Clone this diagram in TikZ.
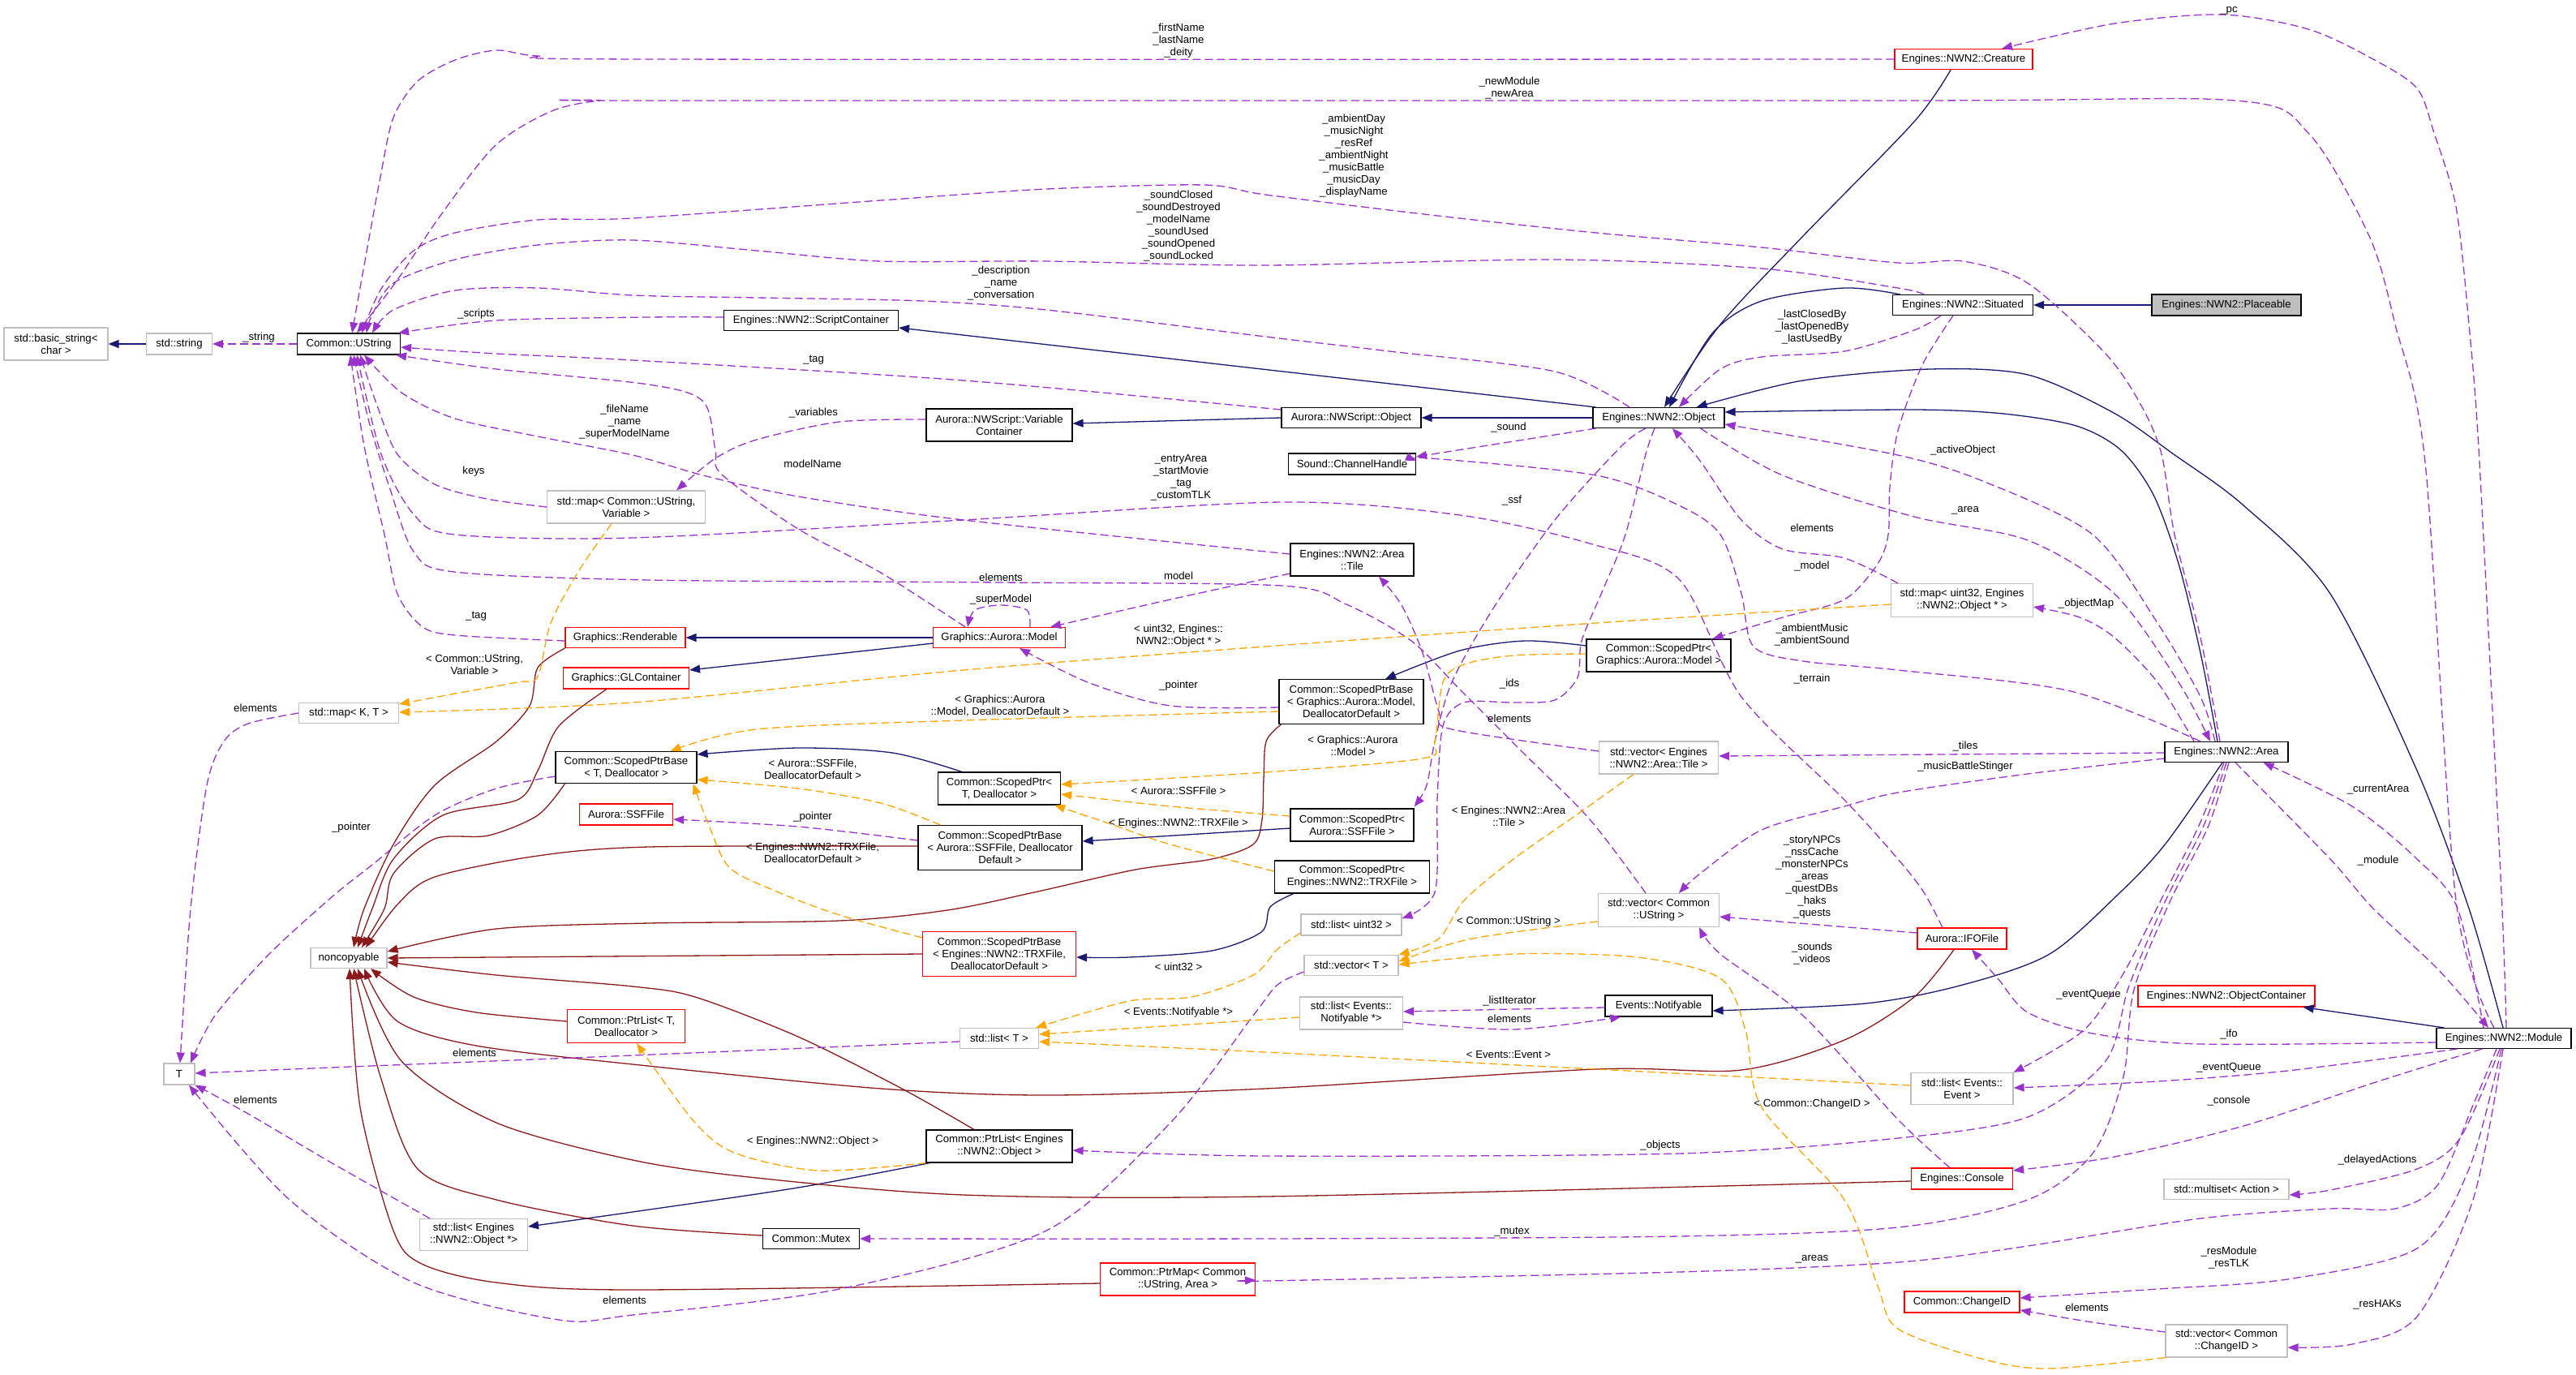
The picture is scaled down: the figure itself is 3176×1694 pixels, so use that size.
\documentclass[tikz,border=0pt]{standalone}
\usepackage{fontspec}
\setmainfont{Liberation Sans}
\usetikzlibrary{arrows.meta}
\definecolor{inhc}{HTML}{191970}
\definecolor{usec}{HTML}{9A32CD}
\definecolor{tmplc}{HTML}{FFA500}
\definecolor{privc}{HTML}{8B1A1A}
\definecolor{grayb}{HTML}{BFBFBF}
\newcommand{\dfont}{\fontsize{13.2}{15}\selectfont}
\tikzset{
 nbox/.style={draw, line width=1.15pt, inner sep=0pt, align=center, font=\dfont, fill=white},
 nbk/.style={nbox, draw=black},
 nrd/.style={nbox, draw=red},
 ngr/.style={nbox, draw=grayb},
 sz/.style 2 args={minimum width=#1pt, minimum height=#2pt},
 lbl/.style={inner sep=0pt, align=center, font=\dfont},
 arrtip/.style={-{Triangle[length=13pt,width=10pt]}},
 einh/.style={draw=inhc, line width=1.3pt, arrtip},
 epriv/.style={draw=privc, line width=1.3pt, arrtip},
 euse/.style={draw=usec, line width=1.3pt, dash pattern=on 10pt off 5pt, arrtip},
 etmpl/.style={draw=tmplc, line width=1.3pt, dash pattern=on 10pt off 5pt, arrtip},
}
\begin{document}
\begin{tikzpicture}[x=1pt,y=-1pt]
\useasboundingbox (0,0) rectangle (3176,1694);
\fill[white] (0,0) rectangle (3176,1694);

% ---------------- nodes ----------------
\node[ngr, sz={128}{40}] (n_basic) at (69,424) {std::basic\_string<\\char >};
\node[ngr, sz={81}{26}] (n_stdstr) at (221,424) {std::string};
\node[nbk, sz={127}{26}] (n_ustr) at (430,424) {Common::UString};
\node[nbk, sz={215}{25}] (n_script) at (1000,395) {Engines::NWN2::ScriptContainer};
\node[nbk, sz={180}{40}] (n_varc) at (1232,524) {Aurora::NWScript::Variable\\Container};
\node[nrd, sz={170}{25}] (n_creat) at (2421,73) {Engines::NWN2::Creature};
\node[nbk, sz={172}{25}] (n_nwsobj) at (1666,515) {Aurora::NWScript::Object};
\node[nbk, sz={162}{25}] (n_obj) at (2045,515) {Engines::NWN2::Object};
\node[nbk, sz={157}{26}] (n_chan) at (1667,572) {Sound::ChannelHandle};
\node[nbk, sz={173}{25}] (n_sit) at (2420,376) {Engines::NWN2::Situated};
\node[nbk, sz={184}{26}, fill=grayb] (n_place) at (2745,376) {Engines::NWN2::Placeable};
\node[ngr, sz={175}{41}] (n_mapu) at (2419,740) {std::map< uint32, Engines\\::NWN2::Object * >};
\node[nbk, sz={152}{25}] (n_area) at (2745,927) {Engines::NWN2::Area};
\node[ngr, sz={195}{40}] (n_mapsv) at (772,625) {std::map< Common::UString,\\Variable >};
\node[nrd, sz={148}{25}] (n_rend) at (771,786) {Graphics::Renderable};
\node[nrd, sz={155}{26}] (n_glc) at (772,836) {Graphics::GLContainer};
\node[ngr, sz={123}{25}] (n_mapkt) at (430,879) {std::map< K, T >};
\node[nbk, sz={174}{39}] (n_spbT) at (772,946) {Common::ScopedPtrBase\\< T, Deallocator >};
\node[nrd, sz={115}{26}] (n_ssf) at (772,1004) {Aurora::SSFFile};
\node[nrd, sz={163}{25}] (n_model) at (1232,786) {Graphics::Aurora::Model};
\node[nbk, sz={151}{40}] (n_spT) at (1232,972) {Common::ScopedPtr<\\T, Deallocator >};
\node[nbk, sz={202}{55}] (n_spbSSF) at (1233,1045) {Common::ScopedPtrBase\\< Aurora::SSFFile, Deallocator\\Default >};
\node[nbk, sz={178}{55}] (n_spbModel) at (1666,865) {Common::ScopedPtrBase\\< Graphics::Aurora::Model,\\DeallocatorDefault >};
\node[nbk, sz={152}{40}] (n_tile) at (1667,690) {Engines::NWN2::Area\\::Tile};
\node[nbk, sz={178}{40}] (n_spModel) at (2045,808) {Common::ScopedPtr<\\Graphics::Aurora::Model >};
\node[ngr, sz={147}{40}] (n_vtile) at (2045,934) {std::vector< Engines\\::NWN2::Area::Tile >};
\node[nbk, sz={152}{40}] (n_spSSF) at (1667,1017) {Common::ScopedPtr<\\Aurora::SSFFile >};
\node[nbk, sz={191}{40}] (n_spTRX) at (1667,1081) {Common::ScopedPtr<\\Engines::NWN2::TRXFile >};
\node[ngr, sz={149}{41}] (n_vustr) at (2045,1122) {std::vector< Common\\::UString >};
\node[ngr, sz={94}{25}] (n_noncopy) at (430,1181) {noncopyable};
\node[ngr, sz={38}{26}] (n_T) at (221,1324) {T};
\node[ngr, sz={133}{39}] (n_listobj) at (584,1522) {std::list< Engines\\::NWN2::Object *>};
\node[nrd, sz={145}{41}] (n_ptrlT) at (772,1265) {Common::PtrList< T,\\Deallocator >};
\node[nrd, sz={189}{55}] (n_spbTRX) at (1232,1176) {Common::ScopedPtrBase\\< Engines::NWN2::TRXFile,\\DeallocatorDefault >};
\node[ngr, sz={97}{25}] (n_listT) at (1232,1280) {std::list< T >};
\node[nbk, sz={180}{40}] (n_ptrlobj) at (1232,1413) {Common::PtrList< Engines\\::NWN2::Object >};
\node[nbk, sz={119}{25}] (n_mutex) at (1000,1527) {Common::Mutex};
\node[nrd, sz={191}{40}] (n_ptrmap) at (1452,1577) {Common::PtrMap< Common\\::UString, Area >};
\node[ngr, sz={124}{26}] (n_listu32) at (1666,1140) {std::list< uint32 >};
\node[ngr, sz={116}{25}] (n_vecT) at (1666,1190) {std::vector< T >};
\node[ngr, sz={127}{40}] (n_listnot) at (1666,1249) {std::list< Events::\\Notifyable *>};
\node[nbk, sz={132}{26}] (n_notif) at (2045,1240) {Events::Notifyable};
\node[nrd, sz={110}{26}] (n_ifo) at (2419,1157) {Aurora::IFOFile};
\node[nrd, sz={218}{26}] (n_objc) at (2745,1228) {Engines::NWN2::ObjectContainer};
\node[nbk, sz={166}{25}] (n_module) at (3087,1280) {Engines::NWN2::Module};
\node[ngr, sz={126}{39}] (n_listev) at (2419,1342) {std::list< Events::\\Event >};
\node[nrd, sz={125}{26}] (n_console) at (2419,1453) {Engines::Console};
\node[ngr, sz={154}{25}] (n_mset) at (2745,1466) {std::multiset< Action >};
\node[nrd, sz={142}{26}] (n_chid) at (2419,1605) {Common::ChangeID};
\node[ngr, sz={150}{40}] (n_vchid) at (2745,1653) {std::vector< Common\\::ChangeID >};

% ---------------- inheritance ----------------
\draw[einh] (n_stdstr.west) -- (n_basic.east);
\draw[einh] ([shift={(4,0)}]n_obj.north west) -- ([shift={(0,9)}]n_script.east);
\draw[einh] (n_obj.west) -- (n_nwsobj.east);
\draw[einh] (n_nwsobj.west) -- ([shift={(0,-2)}]n_varc.east);
\draw[einh] plot[smooth] coordinates {([shift={(-16,0)}]n_creat.south) (2360,150) (2223,291) (2121,400) ([shift={(7,0)}]n_obj.north)};
\draw[einh] plot[smooth] coordinates {([shift={(10,0)}]n_sit.north west) (2274,355) (2172,371) (2111,411) ([shift={(13,0)}]n_obj.north)};
\draw[einh] (n_place.west) -- (n_sit.east);
\draw[einh] plot[smooth] coordinates {([shift={(-11,0)}]n_area.north) (2713,805) (2686,695) (2655,610) (2615,555) (2560,525) (2470,510) (2360,505) ([shift={(0,-7)}]n_obj.east)};
\draw[einh] plot[smooth] coordinates {([shift={(-1,0)}]n_module.north) (3044,1120) (2980,950) (2873,732) (2766,623) (2680,560) (2606,509) (2500,462) (2380,455) (2223,469) ([shift={(-35,0)}]n_obj.north east)};
\draw[einh] ([shift={(10,0)}]n_module.north west) -- ([shift={(-15,0)}]n_objc.south east);
\draw[einh] plot[smooth] coordinates {([shift={(-5,0)}]n_area.south) (2670,1040) (2614,1100) (2527,1176) (2420,1214) (2300,1237) ([shift={(0,6)}]n_notif.east)};
\draw[einh] plot[smooth] coordinates {([shift={(0,-12)}]n_spModel.west) (1880,790) (1800,802) ([shift={(42,0)}]n_spbModel.north)};
\draw[einh] plot[smooth] coordinates {([shift={(-46,0)}]n_spT.north) (1100,928) (984,922) ([shift={(0,-16)}]n_spbT.east)};
\draw[einh] ([shift={(0,4)}]n_spSSF.west) -- ([shift={(0,-8)}]n_spbSSF.east);
\draw[einh] plot[smooth] coordinates {([shift={(24,0)}]n_spTRX.south west) (1566,1118) (1555,1149) (1494,1172) (1392,1180) ([shift={(0,4)}]n_spbTRX.east)};
\draw[einh] (n_model.west) -- (n_rend.east);
\draw[einh] ([shift={(0,-6)}]n_model.south west) -- ([shift={(0,-10)}]n_glc.east);
\draw[einh] plot[smooth] coordinates {([shift={(5,0)}]n_ptrlobj.south west) (984,1464) (780,1494) ([shift={(0,-10)}]n_listobj.east)};

% ---------------- private inheritance ----------------
\draw[epriv] plot[smooth] coordinates {(n_rend.south west) (663,823) (653,870) (612,914) (536,968) (485,1041) (449,1120) ([shift={(6,0)}]n_noncopy.north)};
\draw[epriv] plot[smooth] coordinates {([shift={(-24,0)}]n_glc.south) (689,895) (663,950) (638,986) (546,1005) (485,1059) (459,1120) ([shift={(11,0)}]n_noncopy.north)};
\draw[epriv] plot[smooth] coordinates {([shift={(12,0)}]n_spbT.south west) (663,1005) (602,1030) (536,1034) (485,1077) (474,1120) ([shift={(16,0)}]n_noncopy.north)};
\draw[epriv] plot[smooth] coordinates {([shift={(0,-2)}]n_spbSSF.west) (800,1044) (663,1055) (536,1081) (490,1115) ([shift={(21,0)}]n_noncopy.north)};
\draw[epriv] plot[smooth] coordinates {([shift={(3,0)}]n_spbModel.south west) (1561,914) (1558,960) (1556,1010) (1545,1041) (1494,1059) (1400,1072) (1275,1100) (1168,1122) (1035,1135) (800,1138) (612,1145) ([shift={(0,-8)}]n_noncopy.east)};
\draw[epriv] (n_spbTRX.west) -- (n_noncopy.east);
\draw[epriv] plot[smooth] coordinates {([shift={(-31,0)}]n_ptrlobj.north) (1112,1342) (984,1278) (857,1229) (780,1216) (612,1202) ([shift={(0,5)}]n_noncopy.east)};
\draw[epriv] plot[smooth] coordinates {([shift={(0,-6)}]n_ptrlT.west) (587,1248) (510,1229) ([shift={(27,0)}]n_noncopy.south)};
\draw[epriv] plot[smooth] coordinates {([shift={(-10,0)}]n_ifo.south) (2360,1229) (2274,1282) (2147,1319) (1968,1318) (1560,1342) (1290,1350) (1086,1342) (780,1312) (587,1289) (490,1259) ([shift={(19,0)}]n_noncopy.south)};
\draw[epriv] plot[smooth] coordinates {([shift={(0,3)}]n_console.west) (1560,1475) (1188,1473) (933,1452) (780,1430) (612,1384) (495,1308) ([shift={(11,0)}]n_noncopy.south)};
\draw[epriv] plot[smooth] coordinates {([shift={(0,-4)}]n_mutex.west) (780,1511) (612,1479) (515,1441) (469,1327) ([shift={(6,0)}]n_noncopy.south)};
\draw[epriv] plot[smooth] coordinates {([shift={(0,5)}]n_ptrmap.west) (780,1590) (612,1581) (520,1558) (485,1517) (444,1365) ([shift={(1,0)}]n_noncopy.south)};

% ---------------- usage ----------------
\draw[euse] (n_ustr.west) -- (n_stdstr.east);
\draw[euse] plot[smooth] coordinates {(n_creat.west) (800,73) (663,69) (612,62) (561,74) (515,100) (485,145) (469,218) (449,327) ([shift={(4,0)}]n_ustr.north)};
\draw[euse] plot[smooth] coordinates {([shift={(-12,0)}]n_module.north) (3028,1110) (2990,570) (2953,400) (2921,291) (2846,164) (2756,124) (2340,124) (800,124) (740,124) (680,137) (610,180) (540,270) (490,345) ([shift={(10,0)}]n_ustr.north)};
\draw[euse] plot[smooth] coordinates {([shift={(-8,0)}]n_area.north) (2713,786) (2681,659) (2665,560) (2640,500) (2596,436) (2500,349) (2420,322) (2340,324) (2172,305) (1968,287) (1764,265) (1560,240) (1484,228) (1290,233) (1086,247) (780,269) (663,271) (561,287) (510,309) (470,356) ([shift={(16,0)}]n_ustr.north)};
\draw[euse] plot[smooth] coordinates {([shift={(-48,0)}]n_sit.north) (2340,355) (2172,331) (1917,320) (1560,327) (1290,322) (1086,322) (933,309) (780,296) (663,302) (561,320) (485,349) (458,390) ([shift={(22,0)}]n_ustr.north)};
\draw[euse] plot[smooth] coordinates {([shift={(-36,0)}]n_obj.north) (1917,458) (1713,433) (1560,415) (1290,382) (1137,371) (933,367) (780,364) (663,355) (561,358) (485,382) ([shift={(29,0)}]n_ustr.north)};
\draw[euse] plot[smooth] coordinates {([shift={(0,-4)}]n_script.west) (800,391) (612,395) ([shift={(-3,0)}]n_ustr.north east)};
\draw[euse] plot[smooth] coordinates {([shift={(0,-10)}]n_nwsobj.west) (1188,469) (780,444) (612,436) ([shift={(0,4)}]n_ustr.east)};
\draw[euse] plot[smooth] coordinates {([shift={(-42,0)}]n_model.north) (1086,706) (984,652) (890,585) (882,555) (867,495) (800,474) (612,455) ([shift={(-6,0)}]n_ustr.south east)};
\draw[euse] plot[smooth] coordinates {([shift={(0,-7)}]n_tile.west) (1188,641) (984,612) (867,586) (780,561) (663,538) (561,516) (495,484) ([shift={(19,0)}]n_ustr.south)};
\draw[euse] plot[smooth] coordinates {([shift={(-16,0)}]n_vustr.north) (1960,1010) (1880,930) (1800,850) (1740,790) (1660,745) (1580,722) (1234,718) (800,715) (560,705) (510,680) (480,600) (455,520) ([shift={(6,0)}]n_ustr.south)};
\draw[euse] plot[smooth] coordinates {([shift={(-24,0)}]n_ifo.north) (2372,1100) (2340,1059) (2274,986) (2147,859) (2070,714) (1960,670) (1800,635) (1580,619) (1188,641) (780,663) (561,659) (510,634) (470,560) ([shift={(10,0)}]n_ustr.south)};
\draw[euse] plot[smooth] coordinates {(n_mapsv.west) (600,615) (536,597) (490,560) (465,500) ([shift={(14,0)}]n_ustr.south)};
\draw[euse] plot[smooth] coordinates {([shift={(0,4)}]n_rend.west) (561,783) (520,772) (490,732) (474,659) (449,550) ([shift={(2,0)}]n_ustr.south)};
\draw[euse] plot[smooth] coordinates {([shift={(0,-7)}]n_varc.west) (1035,520) (933,542) (882,565) ([shift={(-36,0)}]n_mapsv.north east)};
\draw[euse] plot[smooth] coordinates {([shift={(4,0)}]n_obj.south west) (1860,545) ([shift={(0,-9)}]n_chan.east)};
\draw[euse] plot[smooth] coordinates {([shift={(-32,0)}]n_area.north) (2553,852) (2340,826) (2223,815) (2162,797) (2147,732) (2121,659) (2070,623) (1968,586) (1764,565) ([shift={(0,-4)}]n_chan.east)};
\draw[euse] plot[smooth] coordinates {([shift={(-16,0)}]n_obj.south) (1999,550) (1917,641) (1841,750) (1790,841) (1769,914) (1759,968) ([shift={(0,-2)}]n_spSSF.north east)};
\draw[euse] plot[smooth] coordinates {([shift={(-5,0)}]n_obj.south) (2029,560) (2004,659) (1975,730) (1950,790) (1945,835) (1917,863) (1866,866) (1805,866) (1779,895) (1772,986) (1769,1100) ([shift={(0,-8)}]n_listu32.east)};
\draw[euse] plot[smooth] coordinates {([shift={(9,0)}]n_mapu.north west) (2274,688) (2198,677) (2147,641) (2096,568) ([shift={(17,0)}]n_obj.south)};
\draw[euse] plot[smooth] coordinates {([shift={(-12,0)}]n_sit.south) (2370,450) (2340,531) (2330,600) (2328,659) (2315,695) (2274,739) (2198,761) ([shift={(-23,0)}]n_spModel.north east)};
\draw[euse] plot[smooth] coordinates {([shift={(-27,0)}]n_sit.south) (2360,407) (2274,433) (2172,440) (2121,455) ([shift={(25,0)}]n_obj.north)};
\draw[euse] plot[smooth] coordinates {([shift={(-14,0)}]n_area.north) (2713,859) (2660,768) (2580,659) (2447,594) (2340,561) ([shift={(0,8)}]n_obj.east)};
\draw[euse] plot[smooth] coordinates {([shift={(-30,0)}]n_obj.south east) (2198,586) (2360,637) (2500,666) (2607,732) (2686,841) ([shift={(-20,0)}]n_area.north)};
\draw[euse] plot[smooth] coordinates {([shift={(-40,0)}]n_area.north) (2660,841) (2607,786) (2564,761) ([shift={(0,8)}]n_mapu.east)};
\draw[euse] ([shift={(0,1)}]n_area.west) -- ([shift={(0,-2)}]n_vtile.east);
\draw[euse] plot[smooth] coordinates {([shift={(0,8)}]n_area.west) (2500,954) (2340,977) (2274,994) (2172,1023) (2096,1077) ([shift={(25,0)}]n_vustr.north)};
\draw[euse] ([shift={(0,-7)}]n_ifo.west) -- ([shift={(0,8)}]n_vustr.east);
\draw[euse] plot[smooth] coordinates {([shift={(-15,0)}]n_console.north) (2340,1380) (2223,1252) (2121,1176) ([shift={(50,0)}]n_vustr.south)};
\draw[euse] plot[smooth] coordinates {([shift={(0,-8)}]n_vtile.west) (1790,899) (1774,877) (1754,805) (1728,746) ([shift={(33,0)}]n_tile.south)};
\draw[euse] plot[smooth] coordinates {([shift={(0,17)}]n_tile.west) (1443,739) ([shift={(-19,0)}]n_model.north east)};
\draw[euse] plot[smooth] coordinates {([shift={(38,0)}]n_model.north) (1266,752) (1234,746) (1202,752) ([shift={(-39,0)}]n_model.north)};
\draw[euse] plot[smooth] coordinates {([shift={(0,7)}]n_spbModel.west) (1443,870) (1341,841) ([shift={(25,0)}]n_model.south)};
\draw[euse] plot[smooth] coordinates {([shift={(0,-9)}]n_spbSSF.west) (984,1019) ([shift={(0,6)}]n_ssf.east)};
\draw[euse] plot[smooth] coordinates {([shift={(0,11)}]n_spbT.west) (612,972) (536,1005) (459,1066) (410,1105) (332,1176) (265,1252) ([shift={(14,0)}]n_T.north)};
\draw[euse] plot[smooth] coordinates {(n_mapkt.west) (306,892) (276,914) (255,968) (235,1120) ([shift={(1,0)}]n_T.north)};
\draw[euse] plot[smooth] coordinates {([shift={(0,4)}]n_listT.west) (780,1301) (408,1316) ([shift={(0,-1)}]n_T.east)};
\draw[euse] plot[smooth] coordinates {([shift={(13,0)}]n_listobj.north west) (408,1433) (306,1373) (n_T.south east)};
\draw[euse] plot[smooth] coordinates {([shift={(0,8)}]n_vecT.west) (1575,1214) (1545,1252) (1443,1384) (1290,1517) (1035,1589) (780,1621) (689,1627) (510,1581) (357,1479) ([shift={(12,0)}]n_T.south)};
\draw[euse] plot[smooth] coordinates {([shift={(0,11)}]n_listnot.east) (1866,1269) ([shift={(20,0)}]n_notif.south west)};
\draw[euse] plot[smooth] coordinates {([shift={(0,2)}]n_notif.west) (1866,1244) ([shift={(0,-2)}]n_listnot.east)};
\draw[euse] plot[smooth] coordinates {([shift={(-3,0)}]n_area.south) (2710,1020) (2664,1110) (2618,1200) (2569,1270) (n_listev.north east)};
\draw[euse] plot[smooth] coordinates {(n_area.south) (2716,1020) (2670,1110) (2625,1215) (2596,1308) (2500,1377) (2340,1403) (2070,1422) (1560,1425) ([shift={(0,5)}]n_ptrlobj.east)};
\draw[euse] plot[smooth] coordinates {([shift={(3,0)}]n_area.south) (2722,1020) (2676,1110) (2631,1220) (2618,1327) (2580,1422) (2500,1479) (2340,1513) (2070,1524) (1560,1527) (n_mutex.east)};
\draw[euse] plot[smooth] coordinates {([shift={(26,0)}]n_module.south west) (2820,1320) (2660,1333) ([shift={(0,-1)}]n_listev.east)};
\draw[euse] plot[smooth] coordinates {([shift={(0,5)}]n_module.west) (2713,1287) (2580,1274) (2500,1248) (2463,1206) ([shift={(12,0)}]n_ifo.south)};
\draw[euse] plot[smooth] coordinates {([shift={(-27,0)}]n_module.south) (2926,1335) (2766,1388) (2607,1426) ([shift={(0,-10)}]n_console.east)};
\draw[euse] plot[smooth] coordinates {([shift={(-5,0)}]n_module.south) (3033,1403) (2980,1441) (2873,1467) ([shift={(0,7)}]n_mset.east)};
\draw[euse] plot[smooth] coordinates {([shift={(-3,0)}]n_module.south) (3044,1441) (2980,1539) (2820,1577) (2660,1589) ([shift={(0,-5)}]n_chid.east)};
\draw[euse] plot[smooth] coordinates {([shift={(-1,0)}]n_module.south) (3049,1479) (2980,1623) (2900,1657) ([shift={(0,8)}]n_vchid.east)};
\draw[euse] plot[smooth] coordinates {([shift={(0,-11)}]n_vchid.west) (2580,1630) ([shift={(0,10)}]n_chid.east)};
\draw[euse] plot[smooth] coordinates {([shift={(-9,0)}]n_module.south) (3050,1360) (3006,1460) (2953,1490) (2873,1490) (2713,1502) (2500,1536) (2340,1556) (2070,1568) (1560,1579) ([shift={(0,1)}]n_ptrmap.east)};
\draw[euse] plot[smooth] coordinates {([shift={(3,0)}]n_module.north) (3084,1100) (3057,570) (3044,400) (3028,255) (3001,164) (2980,109) (2926,73) (2846,36) (2740,18) (2607,29) ([shift={(47,0)}]n_creat.north)};
\draw[euse] plot[smooth] coordinates {([shift={(-25,0)}]n_module.north) (3030,1120) (2980,1059) (2900,994) ([shift={(-31,0)}]n_area.south east)};
\draw[euse] plot[smooth] coordinates {([shift={(11,0)}]n_area.south) (2873,1059) (2926,1120) (3006,1195) ([shift={(-19,0)}]n_module.north)};

% ---------------- template instances ----------------
\draw[etmpl] plot[smooth] coordinates {([shift={(-18,0)}]n_mapsv.south) (714,703) (679,768) (663,834) (638,841) (561,855) ([shift={(0,-11)}]n_mapkt.east)};
\draw[etmpl] plot[smooth] coordinates {([shift={(0,5)}]n_mapu.west) (1968,768) (1560,797) (1188,826) (780,866) ([shift={(0,-1)}]n_mapkt.east)};
\draw[etmpl] plot[smooth] coordinates {([shift={(0,12)}]n_spbModel.west) (1188,888) (933,899) ([shift={(-33,0)}]n_spbT.north east)};
\draw[etmpl] plot[smooth] coordinates {([shift={(28,0)}]n_spbSSF.north west) (1086,990) (984,972) ([shift={(0,15)}]n_spbT.east)};
\draw[etmpl] plot[smooth] coordinates {([shift={(0,8)}]n_spbTRX.north west) (1035,1128) (960,1100) (900,1070) (875,1020) ([shift={(-5,0)}]n_spbT.south east)};
\draw[etmpl] plot[smooth] coordinates {([shift={(0,-2)}]n_spModel.west) (1866,808) (1805,819) (1779,841) (1769,914) (1754,935) (1560,952) ([shift={(0,-5)}]n_spT.east)};
\draw[etmpl] plot[smooth] coordinates {([shift={(0,-11)}]n_spSSF.west) (1443,994) ([shift={(0,7)}]n_spT.east)};
\draw[etmpl] plot[smooth] coordinates {([shift={(0,-7)}]n_spTRX.west) (1443,1041) (1367,1015) ([shift={(-8,0)}]n_spT.south east)};
\draw[etmpl] plot[smooth] coordinates {([shift={(-31,0)}]n_vtile.south) (1943,1005) (1866,1059) (1805,1110) (1774,1157) (n_vecT.north east)};
\draw[etmpl] plot[smooth] coordinates {([shift={(0,14)}]n_vustr.west) (1815,1157) ([shift={(0,-5)}]n_vecT.east)};
\draw[etmpl] plot[smooth] coordinates {(n_vchid.south west) (2527,1687) (2447,1676) (2340,1638) (2315,1585) (2274,1479) (2172,1365) (2152,1270) (2121,1206) (2019,1180) (1866,1176) ([shift={(0,-1)}]n_vecT.east)};
\draw[etmpl] plot[smooth] coordinates {([shift={(0,10)}]n_listu32.west) (1575,1170) (1545,1202) (1469,1229) (1392,1234) ([shift={(-4,0)}]n_listT.north east)};
\draw[etmpl] ([shift={(0,5)}]n_listnot.west) -- ([shift={(0,-5)}]n_listT.east);
\draw[etmpl] plot[smooth] coordinates {([shift={(0,-4)}]n_listev.west) (1968,1318) (1560,1297) ([shift={(0,4)}]n_listT.east)};
\draw[etmpl] plot[smooth] coordinates {(n_ptrlobj.south west) (1010,1443) (908,1422) (857,1384) ([shift={(13,0)}]n_ptrlT.south)};

% ---------------- labels ----------------
\node[lbl] (l01) at (319,416) {\_string};
\node[lbl] (l02) at (1453,50.5) {\_firstName\\\_lastName\\\_deity};
\node[lbl] (l03) at (1861,108.5) {\_newModule\\\_newArea};
\node[lbl] (l04) at (1669,192.5) {\_ambientDay\\\_musicNight\\\_resRef\\\_ambientNight\\\_musicBattle\\\_musicDay\\\_displayName};
\node[lbl] (l05) at (1453,279) {\_soundClosed\\\_soundDestroyed\\\_modelName\\\_soundUsed\\\_soundOpened\\\_soundLocked};
\node[lbl] (l06) at (1234,349.5) {\_description\\\_name\\\_conversation};
\node[lbl] (l07) at (587,387) {\_scripts};
\node[lbl] (l08) at (1003,444) {\_tag};
\node[lbl] (l09) at (770,520) {\_fileName\\\_name\\\_superModelName};
\node[lbl] (l10) at (1003,509) {\_variables};
\node[lbl] (l11) at (1002,572) {modelName};
\node[lbl] (l12) at (1456,588.5) {\_entryArea\\\_startMovie\\\_tag\\\_customTLK};
\node[lbl] (l13) at (584,581) {keys};
\node[lbl] (l14) at (2234,403) {\_lastClosedBy\\\_lastOpenedBy\\\_lastUsedBy};
\node[lbl] (l15) at (1860,527) {\_sound};
\node[lbl] (l16) at (587,760) {\_tag};
\node[lbl] (l17) at (1234,739) {\_superModel};
\node[lbl] (l18) at (1234,712) {elements};
\node[lbl] (l19) at (1453,710) {model};
\node[lbl] (l20) at (1864,617) {\_ssf};
\node[lbl] (l21) at (2234,651) {elements};
\node[lbl] (l22) at (2234,698) {\_model};
\node[lbl] (l23) at (2234,782.5) {\_ambientMusic\\\_ambientSound};
\node[lbl] (l24) at (585,819) {< Common::UString,\\Variable >};
\node[lbl] (l25) at (1453,783.5) {< uint32, Engines::\\NWN2::Object * >};
\node[lbl] (l26) at (1453,845) {\_pointer};
\node[lbl] (l27) at (1233,870) {< Graphics::Aurora\\::Model, DeallocatorDefault >};
\node[lbl] (l28) at (1861,843) {\_ids};
\node[lbl] (l29) at (2234,837) {\_terrain};
\node[lbl] (l30) at (1861,886) {elements};
\node[lbl] (l31) at (1668,919) {< Graphics::Aurora\\::Model >};
\node[lbl] (l32) at (315,873) {elements};
\node[lbl] (l33) at (2420,555) {\_activeObject};
\node[lbl] (l34) at (2423,629) {\_area};
\node[lbl] (l35) at (2572,744) {\_objectMap};
\node[lbl] (l36) at (2423,920) {\_tiles};
\node[lbl] (l37) at (2423,945) {\_musicBattleStinger};
\node[lbl] (l38) at (2932,973) {\_currentArea};
\node[lbl] (l39) at (2932,1061) {\_module};
\node[lbl] (l40) at (1002,948) {< Aurora::SSFFile,\\DeallocatorDefault >};
\node[lbl] (l41) at (1002,1007) {\_pointer};
\node[lbl] (l42) at (433,1020) {\_pointer};
\node[lbl] (l43) at (1002,1051) {< Engines::NWN2::TRXFile,\\DeallocatorDefault >};
\node[lbl] (l44) at (1453,975) {< Aurora::SSFFile >};
\node[lbl] (l45) at (1453,1015) {< Engines::NWN2::TRXFile >};
\node[lbl] (l46) at (1860,1006) {< Engines::NWN2::Area\\::Tile >};
\node[lbl] (l47) at (2234,1081) {\_storyNPCs\\\_nssCache\\\_monsterNPCs\\\_areas\\\_questDBs\\\_haks\\\_quests};
\node[lbl] (l48) at (1453,1192) {< uint32 >};
\node[lbl] (l49) at (1860,1136) {< Common::UString >};
\node[lbl] (l50) at (2234,1176) {\_sounds\\\_videos};
\node[lbl] (l51) at (1453,1248) {< Events::Notifyable *>};
\node[lbl] (l52) at (1861,1234) {\_listIterator};
\node[lbl] (l53) at (1861,1256) {elements};
\node[lbl] (l54) at (585,1298) {elements};
\node[lbl] (l55) at (1860,1300) {< Events::Event >};
\node[lbl] (l56) at (315,1356) {elements};
\node[lbl] (l57) at (2575,1226) {\_eventQueue};
\node[lbl] (l58) at (2748,1275) {\_ifo};
\node[lbl] (l59) at (2748,1316) {\_eventQueue};
\node[lbl] (l60) at (2748,1357) {\_console};
\node[lbl] (l61) at (2234,1361) {< Common::ChangeID >};
\node[lbl] (l62) at (1002,1407) {< Engines::NWN2::Object >};
\node[lbl] (l63) at (2047,1412) {\_objects};
\node[lbl] (l64) at (2931,1430) {\_delayedActions};
\node[lbl] (l65) at (1864,1519) {\_mutex};
\node[lbl] (l66) at (2748,1550.5) {\_resModule\\\_resTLK};
\node[lbl] (l67) at (2234,1552) {\_areas};
\node[lbl] (l68) at (770,1603) {elements};
\node[lbl] (l69) at (2931,1608) {\_resHAKs};
\node[lbl] (l70) at (2573,1612) {elements};
\node[lbl] (l71) at (2748,13) {\_pc};
\end{tikzpicture}
\end{document}
